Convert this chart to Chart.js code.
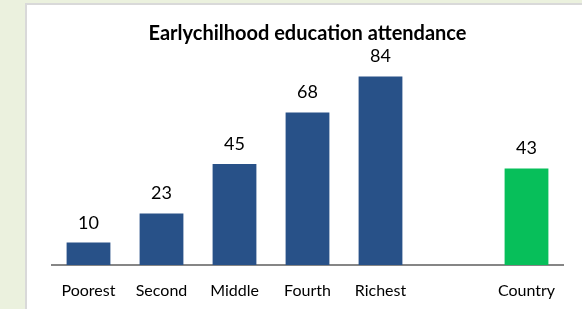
<!DOCTYPE html>
<html>
<head>
<meta charset="utf-8">
<script src="https://cdn.jsdelivr.net/npm/chart.js@4"></script>
<style>
  html, body { margin: 0; padding: 0; }
  body { width: 582px; height: 309px; background: #ebf1de; position: relative; overflow: hidden; }
  #panel { position: absolute; left: 25px; top: 3px; width: 555px; height: 304px;
           background: #fff; border-left: 2px solid #d9d9d9; border-top: 2px solid #d9d9d9; }
</style>
</head>
<body>
<div id="panel"><canvas id="myChart" width="555" height="304"></canvas></div>
<script>
const categories = ['Poorest', 'Second', 'Middle', 'Fourth', 'Richest', '', 'Country'];
const attendance = [10, 23, 45, 68, 84, null, 43];
const barColors = ['#285188', '#285188', '#285188', '#285188', '#285188', '#285188', '#07bf5a'];

// draws the number above each bar
const valueLabels = {
    id: 'valueLabels',
    afterDatasetsDraw(chart) {
        const ctx = chart.ctx;
        const meta = chart.getDatasetMeta(0);
        ctx.save();
        ctx.font = '18px Lato';
        ctx.fillStyle = '#000';
        ctx.textAlign = 'center';
        ctx.textBaseline = 'alphabetic';
        meta.data.forEach((bar, i) => {
            if (attendance[i] == null) return;
            ctx.fillText(attendance[i], bar.x, bar.y - 14);
        });
        ctx.restore();
    }
};

const ctx = document.getElementById('myChart').getContext('2d');
const myChart = new Chart(ctx, {
    type: 'bar',
    data: {
        labels: categories,
        datasets: [{
            data: attendance,
            backgroundColor: barColors,
            barPercentage: 0.6,
            categoryPercentage: 1
        }]
    },
    options: {
        responsive: false,
        animation: false,
        layout: { padding: { left: 25, right: 19, top: 0, bottom: 0 } },
        plugins: {
            legend: { display: false },
            tooltip: { enabled: false },
            title: {
                display: true,
                text: 'Earlychilhood education attendance',
                color: '#000',
                font: { family: 'Lato', size: 20, weight: 'bold' },
                padding: { top: 17, bottom: 17 }
            }
        },
        scales: {
            x: {
                grid: { display: false, drawTicks: false },
                border: { display: true, color: '#868686', width: 2 },
                ticks: { color: '#000', font: { family: 'Lato', size: 16 }, padding: 16 },
                afterFit(scale) { scale.height = 44; }
            },
            y: {
                display: false,
                min: 0,
                max: 90
            }
        }
    },
    plugins: [valueLabels]
});
</script>
</body>
</html>
